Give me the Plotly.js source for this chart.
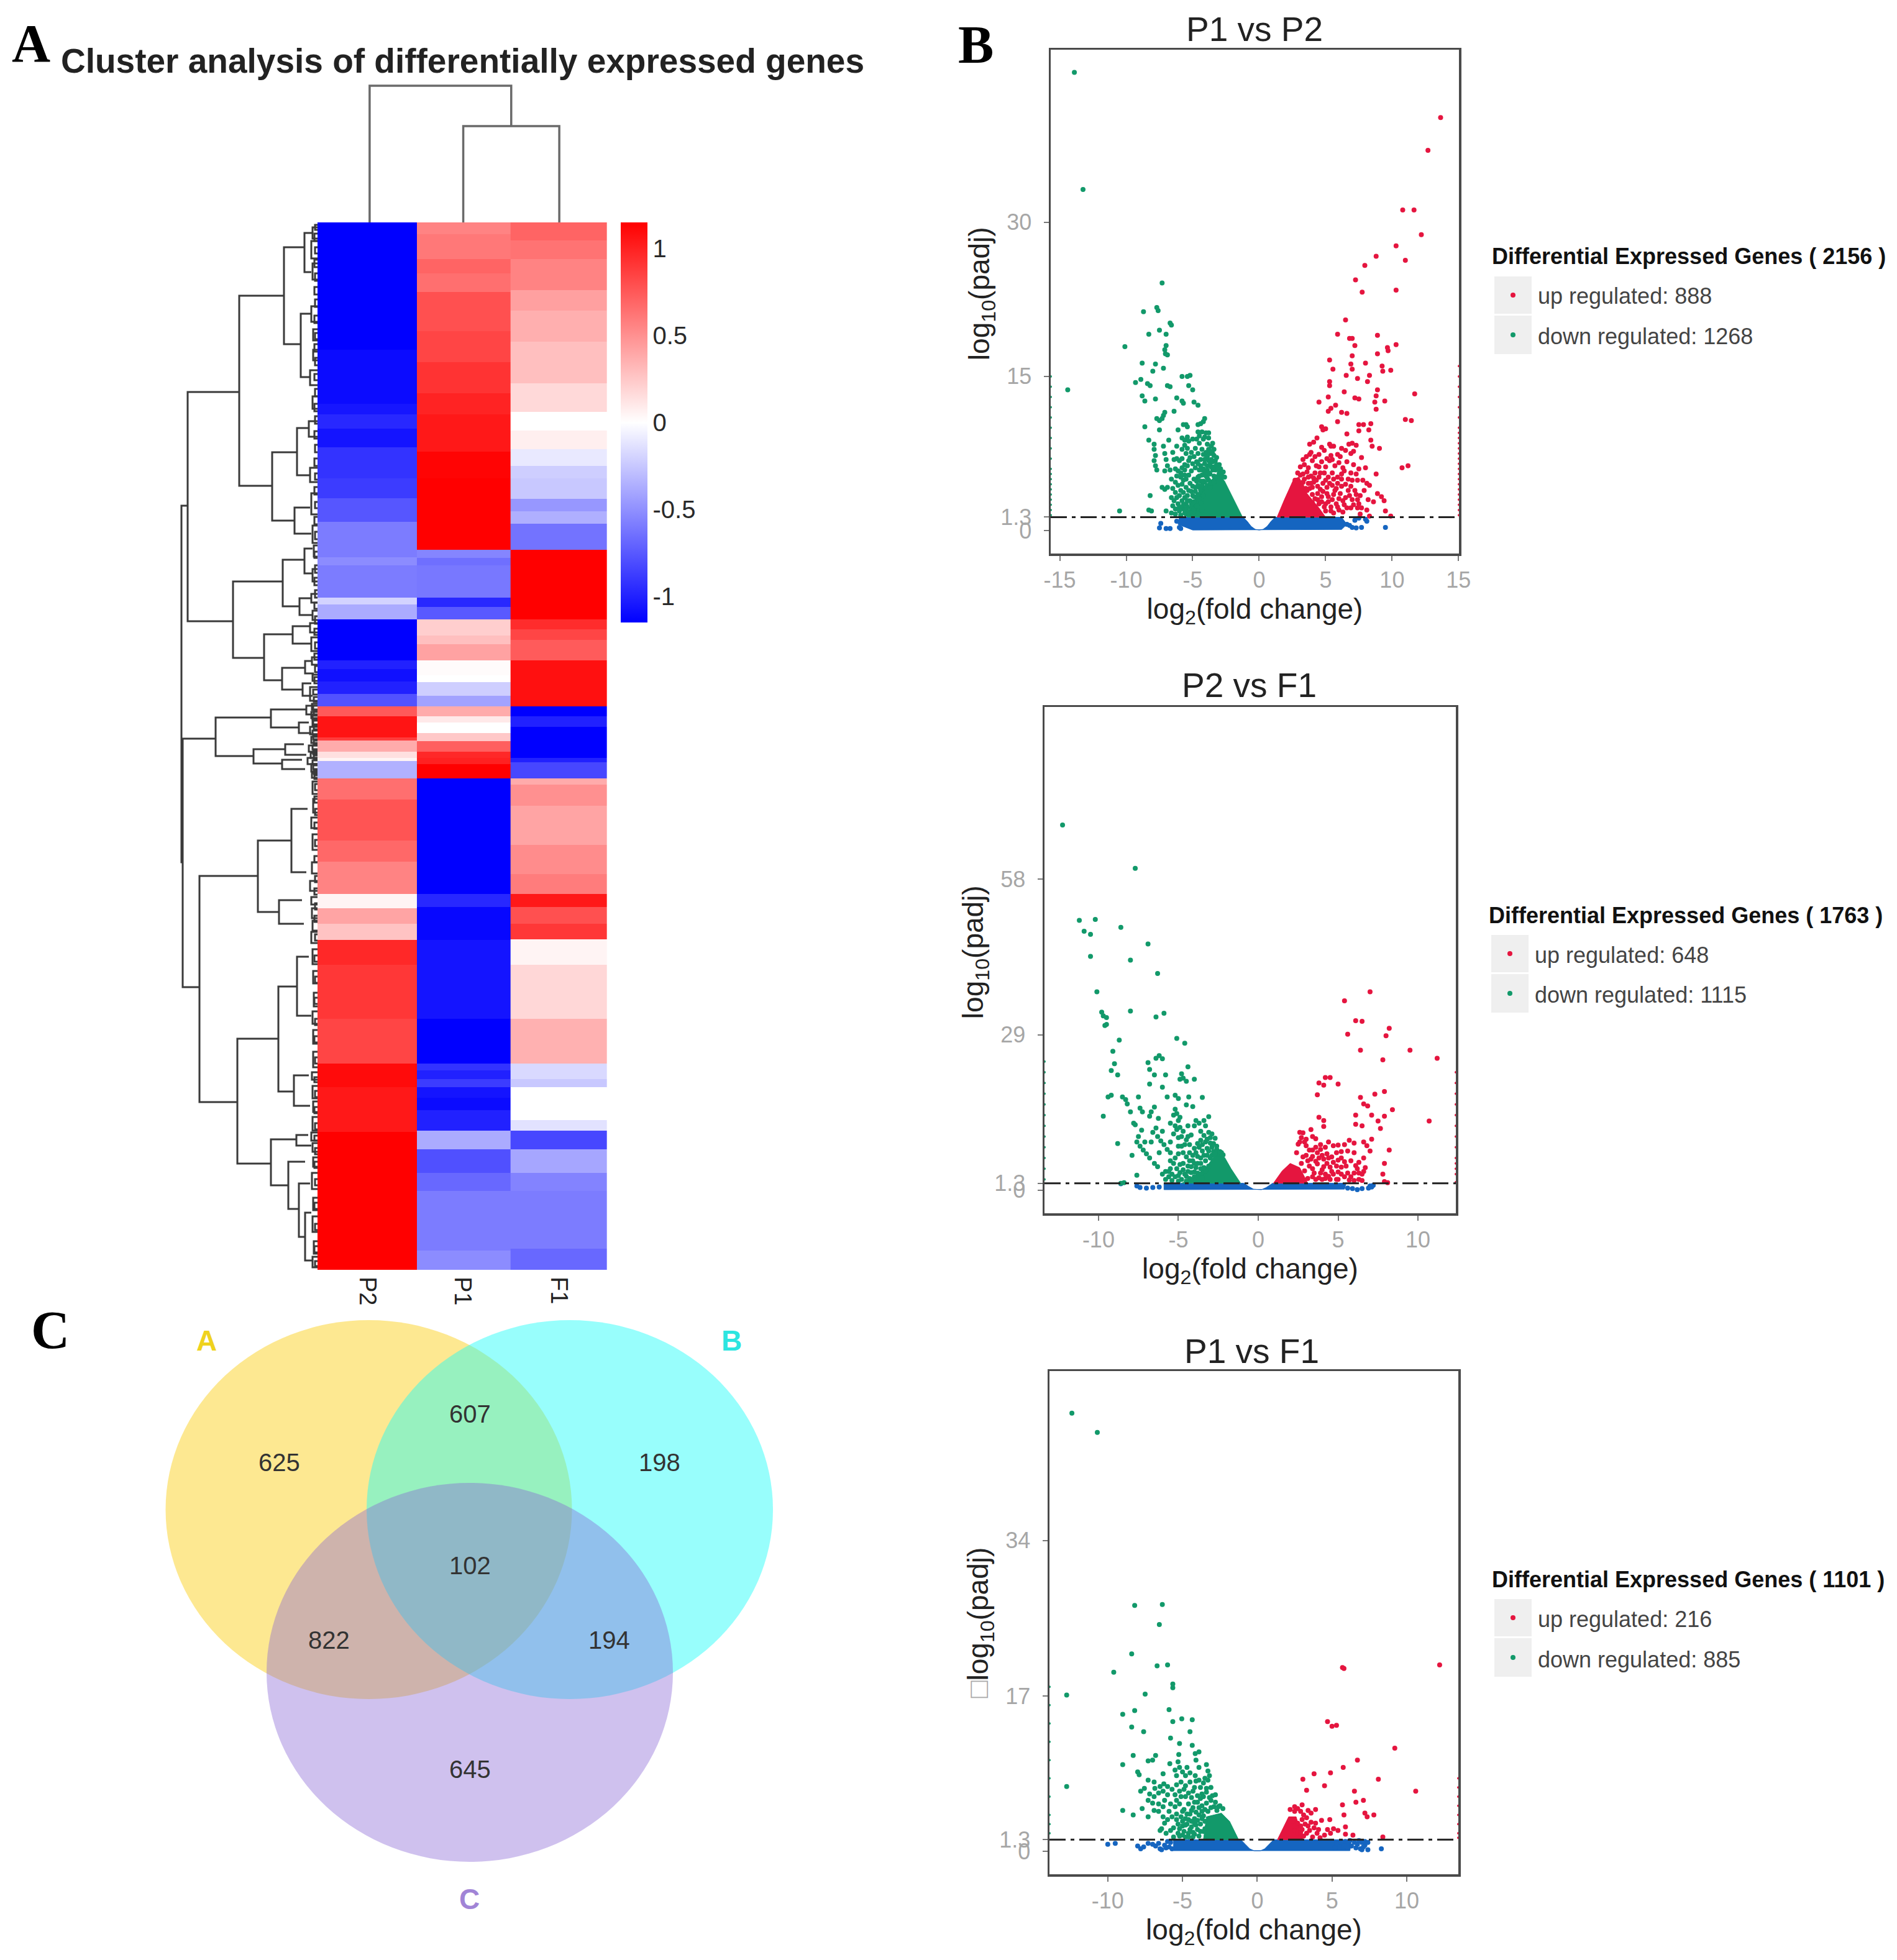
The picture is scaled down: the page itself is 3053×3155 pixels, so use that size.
<!DOCTYPE html>
<html><head><meta charset="utf-8">
<script src="https://cdn.plot.ly/plotly-3.0.1.min.js"></script>
<style>html,body{margin:0;padding:0;background:#fff}</style></head>
<body><div id="chart" style="width:3053px;height:3155px"></div>
<script>
// ---------- Panel A: heatmap (row position, scaled value) ----------
const sampleNames=["P2","P1","F1"];
const colEdges=[0,1.03,2,3];
const p2Edges=[0,205,292,309,332,362,412,444,482,539,552,604,615,639,705,719,739,759,779,795,829,834,852,862,867,895,929,995,1029,1081,1104,1129,1155,1195,1282,1354,1392,1464,1686];
const p2Vals=[-1.15,-1.1,-1.05,-0.97,-1.06,-0.92,-0.88,-0.76,-0.59,-0.52,-0.59,-0.2,-0.38,-1.15,-1,-1.08,-1,-0.78,0.75,1.06,0.88,0.38,0.14,0.05,-0.35,0.65,0.77,0.68,0.56,0.05,0.41,0.27,0.97,0.9,0.84,1.1,1.04,1.15];
const p1Edges=[0,19,59,82,112,175,225,275,309,369,412,527,540,552,604,619,639,665,679,705,729,740,762,779,795,805,822,835,852,862,872,895,1081,1102,1155,1282,1354,1365,1379,1392,1409,1429,1462,1492,1530,1559,1655,1686];
const p1Vals=[0.56,0.61,0.7,0.65,0.79,0.84,0.92,0.99,1.04,1.13,1.15,-0.55,-0.65,-0.61,-0.97,-0.75,0.22,0.29,0.42,0.02,0,-0.22,-0.42,0.38,0.1,0,0.25,0.72,0.97,1,1.15,-1.15,-0.97,-1.12,-1.06,-1.15,-0.92,-1,-0.88,-1.06,-1.1,-1,-0.38,-0.79,-0.68,-0.59,-0.52];
const f1Edges=[0,29,59,109,142,192,259,305,335,365,392,412,445,465,485,527,639,655,672,705,779,795,812,862,869,895,905,939,1002,1049,1081,1102,1129,1154,1195,1282,1354,1379,1392,1445,1462,1492,1530,1559,1652,1686];
const f1Vals=[0.7,0.63,0.56,0.43,0.36,0.29,0.17,0,0.07,-0.1,-0.22,-0.25,-0.47,-0.36,-0.63,1.15,0.95,0.84,0.74,1.08,-1.15,-1,-1.15,-1,-0.83,0.38,0.5,0.41,0.52,0.59,1.04,0.79,0.9,0.05,0.18,0.35,-0.17,-0.25,0,-0.13,-0.83,-0.4,-0.56,-0.59,-0.68];
const colorTicks=[1,0.5,0,-0.5,-1];

// dendrogram merges: [height, rowTop, rowBottom, childHeightTop, childHeightBottom]
const rowMerges=[[219,456,1030,209,217],[217,831,1231,164,190],[209,273,642,126,136],[126,118,424,54,73],[54,40,196,21,27],[21,17,80,8,10],[27,147,249,10,12],[73,370,480,33,37],[33,331,407,14,12],[37,459,501,12,10],[136,578,701,56,86],[56,543,618,21,29],[21,525,565,8,8],[29,605,632,10,8],[86,663,737,40,57],[40,650,678,12,10],[57,717,752,20,24],[20,706,726,8,6],[24,742,762,10,8],[164,797,859,75,103],[75,784,813,18,30],[18,778,792,8,6],[30,805,822,14,10],[103,848,871,52,57],[52,840,857,22,18],[57,865,880,25,20],[190,1052,1416,96,129],[96,995,1110,42,62],[42,944,1046,16,18],[62,1091,1129,25,22],[129,1314,1515,63,75],[63,1230,1399,33,38],[33,1182,1277,14,10],[38,1373,1422,14,12],[75,1476,1550,34,47],[34,1469,1486,15,10],[47,1512,1588,20,30],[30,1547,1633,12,20],[20,1594,1671,10,8]];
// small leaf brackets beside the heatmap: [height, rowTop, rowBottom]
const leafMerges=[[8,8,26],[10,30,58],[8,66,92],[10,135,160],[7,172,190],[12,238,262],[7,205,222],[8,280,300],[14,320,345],[12,395,418],[10,436,470],[8,488,516],[6,520,538],[8,558,578],[10,598,612],[8,625,640],[12,645,660],[10,668,690],[9,700,712],[8,728,738],[12,748,770],[9,775,785],[10,788,798],[8,800,810],[12,812,824],[10,828,838],[14,842,852],[11,854,862],[16,862,872],[10,872,884],[9,886,894],[8,900,920],[7,928,950],[10,958,975],[8,985,1010],[9,1030,1048],[12,1060,1076],[10,1086,1098],[9,1104,1120],[8,1124,1140],[10,1142,1160],[8,1170,1194],[7,1205,1225],[6,1240,1262],[8,1270,1290],[7,1300,1322],[7,1335,1360],[9,1368,1380],[8,1390,1410],[7,1415,1432],[8,1440,1462],[10,1465,1478],[8,1482,1496],[7,1505,1520],[9,1530,1556],[7,1570,1590],[8,1600,1625],[6,1640,1660],[8,1665,1682],
[4,4,12],[5,18,30],[4,40,50],[5,60,72],[4,82,94],[5,104,116],[4,124,136],[5,150,162],[4,178,188],[5,196,208],[4,218,230],[5,244,254],[4,268,280],[5,292,304],[4,312,324],[5,336,348],[4,358,370],[5,380,392],[4,404,414],[5,426,438],[4,450,460],[5,474,486],[4,498,510],[5,530,540],[4,552,564],[5,572,584],[4,592,604],[5,612,622],[4,634,646],[5,654,664],[4,676,686],[5,694,704],[4,714,724],[5,732,742],[7,752,760],[6,764,772],[7,778,784],[6,786,792],[8,794,800],[7,802,808],[6,810,816],[8,818,824],[7,826,832],[6,834,840],[8,842,848],[7,850,856],[6,858,864],[8,866,872],[7,874,880],[6,882,888],[5,890,896],[4,904,914],[5,924,934],[4,944,954],[5,966,976],[4,994,1004],[5,1020,1030],[4,1052,1062],[5,1072,1082],[4,1096,1106],[5,1116,1126],[4,1146,1156],[5,1180,1190],[4,1214,1224],[5,1248,1258],[4,1282,1292],[5,1310,1320],[4,1344,1354],[5,1376,1384],[4,1398,1408],[5,1424,1434],[4,1450,1460],[5,1470,1478],[4,1490,1500],[5,1512,1522],[4,1540,1550],[5,1578,1588],[4,1612,1622],[5,1648,1658],[4,1672,1680]];
// column dendrogram: [height, colLeft, colRight, childHeightLeft, childHeightRight]
const colMerges=[[220,0.54,2.007,0,155],[155,1.51,2.505,0,0]];

// ---------- Panel B: volcano plots, [log2 fold change, -log10 padj] ----------
const p1Down=[[-13.9,44.6],[-13.25,33.2],[-14.4,13.7],[-7.3,24.1],[-8.7,21.3],[-7.7,21.7],[-7.6,21.4],[-6.7,20.2],[-6.6,20],[-7.5,19.5],[-8.3,19.1],[-7,19.1],[-10.1,17.9],[-7,18],[-7.1,17.6],[-7.05,17.2],[-6.9,17.1],[-8.8,16.3],[-7.8,16.2],[-7.2,15.8],[-8,15.5],[-9.3,14.4],[-8.9,14.7],[-8.4,14.3],[-8.2,14.1],[-5.8,15],[-5.2,15.1],[-5.4,15],[-6.9,14.1],[-6.7,14],[-5.3,14.1],[-5,13.7],[-8.8,13.1],[-8.6,12.6],[-7.8,12.8],[-6.2,12.9],[-5.7,12.4],[-5.8,12.6],[-4.9,12.5],[-4.6,12.2],[-7.1,11.5],[-7.7,10.9],[-7.5,10.7],[-7.3,10.9],[-7.2,11.2],[-6.4,11.6],[-4.1,10.9],[-4.2,10.6],[-4.4,10.4],[-4.6,10.3],[-8.6,10.1],[-5.7,10.3],[-5.5,10.3],[-5.4,10.1],[-7.5,9.8],[-6.1,9.8],[-4.6,9.6],[-4.3,9.6],[-4,9.5],[-3.8,9.5],[-8.3,8.8],[-6.8,8.8],[-5.8,9],[-5.6,8.8],[-5.4,9.1],[-7.9,8.4],[-7.9,7.9],[-7.8,7.3],[-7.9,6.8],[-7.8,6.3],[-7.7,5.9],[-7.2,8.2],[-7.1,7.5],[-7,6.9],[-6.9,6.3],[-7.1,5.8],[-6.7,5.9],[-8.2,3.4],[-8.3,2],[-8.1,1.9],[-10.5,1.9],[-7.3,4.2],[-7.1,4],[-6.9,4.2],[-6.4,6.9],[-6.2,7],[-6,6.8],[-5.8,7],[-5.6,6.4],[-6.3,6],[-6.1,5.8],[-5.9,5.6],[-5.6,5.9],[-5.4,6.3],[-6.2,5.3],[-5.9,5.2],[-5.7,4.9],[-5.5,5],[-5.3,5.4],[-5.1,5.8],[-6.1,4.4],[-5.8,4.5],[-5.5,4.2],[-5.2,4.6],[-4.9,5],[-6.3,3.7],[-6,3.4],[-5.7,3.7],[-5.4,3.4],[-5.1,3.8],[-4.8,4.2],[-6.4,2.9],[-6.1,2.6],[-5.8,2.9],[-5.5,2.6],[-5.2,2.9],[-4.9,3.3],[-6.3,2.1],[-6,1.9],[-5.7,2.1],[-5.4,1.9],[-5.1,2.2],[-4.8,2.6],[-5.5,1.6],[-6.6,1.7],[-5.6,8.3],[-5.3,8.7],[-5,8.9],[-5.4,8],[-5.1,7.6],[-4.8,8],[-4.5,8.5],[-4.2,8.9],[-3.9,8.4],[-3.6,8.2],[-3.4,7.9],[-4.9,7.2],[-4.6,7.5],[-4.3,7.9],[-4,7.6],[-3.7,7.5],[-3.4,7.3],[-4.7,6.7],[-4.4,6.9],[-4.1,6.5],[-3.8,6.8],[-3.5,6.7],[-3.2,6.4],[-4.8,6.1],[-4.5,5.9],[-4.2,6],[-3.9,5.9],[-3.6,6.2],[-3.3,5.9],[-3,5.6],[-4.6,5.2],[-4.3,5.4],[-4,5.3],[-3.7,5.5],[-3.4,5.3],[-4.4,4.8],[-4.1,4.7],[-3.8,4.9],[-4.5,4.2],[-4.2,4.1],[-3.9,4.4],[-4.6,3.5],[-4.3,3.3],[-4.7,2.9],[-4.4,2.7],[-4.6,2.2],[-4.3,2],[-7,1.9],
[-6.5,2.4],[-6.3,1.6],[-6.2,3.2],[-6,2.3],[-5.9,3.9],[-5.9,1.5],[-5.7,2.5],[-5.6,3.2],[-5.6,1.7],[-5.4,2.3],[-5.4,2.9],[-5.3,3.9],[-5.3,1.5],[-5.1,1.7],[-5.1,2.6],[-5,3.4],[-5,4.3],[-5,1.5],[-4.9,2.1],[-4.9,2.8],[-4.8,3.8],[-4.8,1.7],[-4.7,4.8],[-4.7,2.4],[-4.6,1.6],[-4.6,4.4],[-4.5,3.1],[-4.5,5.3],[-4.4,3.9],[-4.4,6.3],[-4.3,5.9],[-4.3,4.4],[-4.2,4.8],[-4.2,3.4],[-4.1,5.7],[-4.1,6.9],[-4,4.2],[-4,7],[-3.9,5.1],[-3.9,7.2],[-3.8,5.6],[-3.8,7.9],[-3.7,6.4],[-3.7,4.2],[-3.6,6.9],[-3.6,4.6],[-3.5,7.5],[-3.5,5.9],[-3.5,8.5],[-3.4,6.2],[-3.4,4.7],[-3.3,6.8],[-3.3,5.2],[-3.2,7.1],[-3.1,6],[-3,6.4],[-2.9,6],[-2.8,5.3],[-2.7,5.7],[-2.6,5.2],[-5,6.5],[-5.2,7.1],[-5.5,7.5],[-5.8,7.9],[-6.2,8.2],[-6.5,7.6],[-4.7,8.9],[-4.5,9.2],[-4.1,9.1],[-3.8,9],[-5.8,6.1],[-6.6,5],[-6.5,4.1],[-6.3,4.7],[-6.6,3.2],[-4.6,6.5],[-4.2,7.4],[-3.9,6.3],[-3.6,7.7],[-5.3,6.8],[-5.6,5.4]];
const p1Up=[[13.65,40.2],[12.7,37],[10.8,31.2],[11.65,31.2],[12.2,28.8],[10.3,27.7],[8.8,26.7],[11,26.3],[7.95,25.8],[7.25,24.4],[10.3,23.4],[7.75,23.2],[6.5,20.5],[5.9,19.1],[8.9,19],[6.8,18.7],[7,18.7],[7.2,18],[10.3,18.1],[9.65,17.8],[9.7,17.5],[8.9,17.2],[7,17],[5.3,16.6],[6.9,16.2],[8,16.3],[9.25,16],[5.55,15.7],[7,15.7],[9.3,15.5],[9.9,15.6],[6.55,15.1],[8.3,15.1],[7.4,14.8],[8.15,14.5],[5.3,14.5],[5.3,14.1],[8.9,13.7],[6.4,13.5],[11.7,13.3],[5.2,13],[8.8,13.1],[7.2,12.9],[7.5,12.8],[4.5,12.5],[8.7,12.5],[9.45,12.6],[5.75,12.2],[5.2,11.6],[5.4,11.9],[8.8,11.8],[6.2,11.5],[6.6,11.4],[11,10.8],[11.45,10.7],[5.9,10.6],[8.4,10.4],[7.5,10.3],[7.85,10.3],[4.7,10.1],[5,9.9],[4.8,9.8],[7.5,9.7],[8.25,9.8],[4.35,9],[6.6,9.4],[3.8,8.4],[4.1,8.6],[8.4,8.8],[8.5,8.2],[9.05,8],[7,8.5],[6.75,8.4],[5.4,8.2],[5.6,8.2],[6.5,7.8],[3.8,7.4],[4.9,7.8],[3.55,7.2],[5.9,7.4],[7.7,7.1],[11.2,6.3],[10.75,6.1],[3.1,6.2],[3.4,6.4],[3.7,6.1],[4,6.8],[4.3,6.3],[4.7,6.7],[5,6.2],[5.3,6.8],[5.7,6.3],[6,6.6],[6.3,6.1],[6.6,6.7],[7.1,6.4],[7.5,6],[8,6.1],[8.8,5.5],[2.9,5.6],[3.3,5.5],[3.6,5.7],[3.9,5.3],[4.2,5.6],[4.5,5.2],[4.9,5.6],[5.2,5.2],[5.5,5.6],[5.9,5.2],[6.2,5.5],[6.7,5],[7,4.9],[7.4,4.9],[7.8,4.9],[8.1,4.6],[3.3,4.7],[3.7,4.6],[4.1,4.7],[4.4,4.3],[4.8,4.6],[5.1,4.2],[5.5,4.4],[5.8,4.1],[6.2,4.3],[6.7,3.9],[7.2,3.9],[7.6,3.4],[8.9,3.6],[9.2,3.3],[3.6,3.9],[4,3.5],[4.4,3.6],[4.7,3.3],[5.2,3.3],[5.6,3.5],[6,3.1],[6.5,3.2],[7,3],[7.4,3],[8.6,2.8],[9.4,2.9],[4,2.7],[4.5,2.6],[5,2.6],[5.4,2.3],[5.9,2.3],[6.4,2.5],[6.9,2.2],[7.4,2.2],[8.1,2],[9.5,1.9],[5,1.9],[5.6,1.7],[6.3,1.8],[7.6,1.6],[8.3,1.4],[9.9,1.4],
[2.7,4.9],[2.9,4.6],[3.1,5.4],[3.2,4.3],[3.4,5],[3.5,4.1],[3.7,5.2],[3.8,4.1],[3.9,4.6],[4,4.2],[4.1,5.1],[4.2,3.1],[4.3,4.9],[4.4,3],[4.6,4],[4.6,5.6],[4.7,2.8],[4.8,3.8],[4.9,2.3],[5,4.9],[5.1,3.6],[5.2,2.8],[5.3,4.6],[5.4,1.9],[5.5,3],[5.6,5],[5.7,3.9],[5.8,2.6],[5.9,4.6],[6,2],[6.1,3.6],[6.2,5],[6.3,2.9],[6.5,4.5],[6.6,2.2],[6.8,3.4],[6.9,4.3],[7.1,2.5],[7.3,3.5],[7.5,2.6],[7.7,2.2],[8.3,4.4],[7.9,3.9],[8.2,3],[4.5,6.2],[5.1,7],[5.5,6.9],[4.2,7.2],[4.5,7.4],[5.4,7.3],[6.1,7.2],[6.4,5.8],[6.9,5.6],[7.3,5.5],[3.3,6.9],[3.9,7.6],[4.7,8.1],[5.3,8.4],[6.2,8],[6.9,7.5],[7.3,8.3],[7.1,7.7]];
const p1Stray=[[-7.4,0.7],[-7.5,0.25],[-7,0.2],[-6.7,0.2],[-6.2,0.9],[-6,0.3],[-5.9,0.2],[7,0.3],[7.3,0.25],[7.7,0.3],[7.2,1],[7.5,1.2],[8.1,0.9],[8,1.1],[6.8,0.5],[6.6,0.6],[9.5,0.3]];
const p1DownCore=[[-1.25,1.3],[-1.7,2.5],[-2.6,4.8],[-3.1,5.6],[-3.7,4.8],[-4.6,3.6],[-5.2,2.2],[-5.4,1.3]];
const p1UpCore=[[1.35,1.3],[1.9,3],[2.6,5],[3,5.2],[3.6,3.6],[4.5,2.2],[5,1.3]];
const p1Band=[[-6,1.3],[-1.2,1.3],[-0.9,0.9],[-0.6,0.4],[-0.3,0.12],[0,0.05],[0.3,0.12],[0.6,0.4],[0.9,0.9],[1.2,1.3],[6.2,1.3],[6.6,0.6],[6.2,0.1],[-5,0.05],[-6.1,0.6]];
const p1EdgeDown=[1.5,2,2.5,3,3.5,4,4.5,5,5.5,6,7,8,9,10,11,12,13,14,15];
const p1EdgeUp=[1.5,2,2.5,3,3.5,4,4.5,5,5.5,6,6.5,7,7.5,8,8.5,9,9.5,10,11,12,13,14,15,16];

const p2Down=[[-12.25,68.1],[-7.7,60],[-11.2,50.3],[-10.2,50.5],[-10.9,48.3],[-10.5,47.7],[-8.6,49],[-6.9,45.9],[-10.5,43.6],[-8,42.9],[-6.3,40.4],[-10.1,37],[-8,33.4],[-9.8,33.2],[-9.7,32.5],[-9.5,32.2],[-6.4,32.3],[-5.9,33],[-9.6,30.7],[-9.5,30.9],[-8.7,28],[-5.1,28.3],[-4.6,27.4],[-9.1,25.9],[-6.4,24.6],[-6.2,25.1],[-6,24.5],[-6.9,23.8],[-9,23.6],[-6.8,22.5],[-4.4,23],[-9.2,22.3],[-8.8,21.5],[-6.5,21.5],[-5.8,21.5],[-4.8,21.7],[-4.9,20.7],[-4.7,20.9],[-4,20.7],[-4.5,20.3],[-6.8,19.8],[-6,19.2],[-9.4,17.4],[-9.2,17.7],[-8.5,17.4],[-8.3,16.9],[-7.5,17.4],[-5.7,17.4],[-5.2,17.7],[-5,17.1],[-4.35,17.4],[-3.5,17.3],[-8.2,16.1],[-7.4,15.3],[-6.5,15.5],[-5.2,15.1],[-4.5,15.9],[-4.1,15.6],[-8,14.6],[-7.25,14.6],[-6.7,14.6],[-9.7,13.8],[-7.8,12.5],[-6.8,13.8],[-6.25,13.4],[-7.7,12.2],[-7.5,10],[-7.6,9],[-7.4,8.2],[-7.2,7.5],[-7,6.8],[-6.8,6],[-7.9,6.5],[-6.5,5],[-6.3,4.4],[-6.6,10.8],[-6.3,10],[-6.1,9.2],[-5.9,8.5],[-5.7,7.6],[-5.5,7],[-6,11],[-5.5,12.5],[-5.2,12],[-5,13],[-5.1,11.3],[-4.9,11.7],[-5.3,10.5],[-5,9.8],[-4.7,11],[-4.5,9.4],[-4.2,10.3],[-4,12],[-3.7,12.5],[-3.4,13],[-3.3,12],[-3.1,13.7],[-3.9,13],[-4.3,8.5],[-4.8,8.2],[-5,6.8],[-5.2,6],[-5.3,5],[-5.5,4],[-5.4,3],[-5.6,2.5],[-4.7,7],[-4.5,6.2],[-4.3,7],[-4,7.8],[-3.8,8.7],[-3.6,9.3],[-3.4,10.2],[-3.1,10.8],[-2.9,10.5],[-2.7,9.7],[-3,8.8],[-3.2,7.8],[-3.5,7.3],[-3.8,6.3],[-4.1,5.5],[-4.4,4.5],[-4.7,3.8],[-4.9,4.8],[-5,2.7],[-4.5,2.6],[-4.2,3.3],[-3.9,4.2],[-3.6,5],[-3.3,5.5],[-3.6,3],[-4,2.5],[-3.3,3.6],[-2.9,6.5],[-2.6,8.2],[-2.5,6.8],[-2.3,7],[-8.8,8.7],[-7.6,2.8],[-8.6,1.3],[-8.4,1.4],
[-5.8,2],[-5.6,3.5],[-5.4,1.8],[-5.2,2.5],[-5.1,4],[-5,1.7],[-4.9,3.3],[-4.8,2],[-4.7,5],[-4.6,3],[-4.5,1.7],[-4.4,3.5],[-4.3,2.2],[-4.3,5.5],[-4.2,4.4],[-4.1,2],[-4.1,6.5],[-4,3.4],[-4,5],[-3.9,2],[-3.9,7],[-3.8,3.2],[-3.8,5],[-3.7,2],[-3.7,8],[-3.6,4],[-3.6,6],[-3.5,2.3],[-3.5,8.5],[-3.4,4.2],[-3.4,6.5],[-3.3,9],[-3.2,6.5],[-3.2,9.5],[-3.1,4.5],[-3.1,7.3],[-3,6],[-3,9.8],[-2.9,8],[-2.8,7.2],[-2.8,8.7],[-2.7,6.8],[-2.6,7.6],[-2.4,7.2],[-2.2,6.6],[-4.6,8.5],[-5,8.2],[-4.4,10],[-5.5,5.5],[-5.8,3.5],[-6,3],[-6.2,7],[-4.8,10],[-5.5,9],[-5.3,14],[-5.1,14.3],[-4.9,13.6],[-3.6,11],[-4.4,12],[-6.4,11.6],[-7.3,11.2],[-7.1,9],[-6.7,9]];
const p2Up=[[7,37],[5.4,35.3],[6.1,31.6],[6.5,31.5],[8.2,30.2],[8,28.8],[5.6,29.1],[6.4,26.1],[9.5,26.1],[11.2,24.6],[7.8,24.3],[4.2,21],[4.5,21],[3.8,20],[4.1,19.6],[5,19.8],[3.7,17.8],[7.9,18.4],[7.3,17.9],[6.4,17.3],[6.6,16.1],[6.85,15.7],[8.4,15],[6.1,14],[7.1,14],[7.9,13.8],[3.8,13.6],[4.1,13],[10.7,12.9],[7.5,12.9],[6.1,12.3],[6.5,12],[4.1,11.9],[7.65,11.5],[2.8,10.7],[3.3,11.3],[2.6,10.8],[2.7,9.8],[2.9,9],[3,8.3],[3.2,7.5],[2.5,8.6],[2.4,7],[2.8,6.2],[3.1,5.5],[3.4,6.3],[3.6,8],[3.9,8.5],[4.2,8],[4.4,9],[4.7,8.3],[5,8.4],[5.4,8.5],[3.7,7],[4,6.5],[4.3,6.8],[4.6,6.2],[4.9,7],[5.2,6],[5.6,7.3],[3.4,4],[3.7,4.9],[4,3.8],[4.3,5],[4.6,3.5],[4.9,4.5],[5.2,3],[5.5,4.5],[5.8,2.5],[3.4,2.5],[3.8,2.3],[4.2,2.2],[4.5,2],[5,2],[5.7,9.3],[6,8.8],[6,7],[6.3,5.2],[6.6,6],[6.2,4],[6.5,3],[6.7,4.2],[7,7.3],[6.8,8.3],[7.1,9.5],[6,1.8],[6.3,2],[8.2,7.5],[7.9,5],[7.8,3],[7.9,1.6],[8.1,1.4],[6.6,9],[3.4,10],[3.6,9.6],
[2.7,5],[2.9,3.6],[3,6.5],[3.1,2.2],[3.2,4.5],[3.3,5.8],[3.4,7.5],[3.5,3.2],[3.6,5.4],[3.6,2],[3.8,6],[3.9,3.2],[3.9,7.6],[4,2],[4.1,4.4],[4.1,5.8],[4.2,3],[4.4,6],[4.4,2.6],[4.5,4.3],[4.7,5.2],[4.7,3],[4.9,2],[5,5.6],[5,3.4],[5.2,4.3],[5.2,7.2],[5.4,2.5],[5.4,5.3],[5.6,3.2],[5.7,1.9],[5.8,5.5],[6,3.2],[6.1,4.6],[6.3,3.2],[6.5,1.8],[6.6,3.5],[3,9.5],[2.6,9]];
const p2Stray=[[-7.4,0.5],[-7.6,0.8],[-7,0.4],[-6.6,0.5],[-6.2,0.6],[6.5,0.3],[6.2,0.1],[7,0.8],[7.2,0.9],[6.9,0.4],[7.1,0.6],[5.9,0.3],[5.6,0.4],[-8.6,1.2]];
const p2DownCore=[[-1.1,1.3],[-1.7,4],[-2.1,6.1],[-2.6,7],[-3.2,4.5],[-4,2.5],[-4.8,1.3]];
const p2UpCore=[[0.95,1.3],[1.5,3.6],[2,5],[2.6,4.2],[3.1,1.3]];
const p2Band=[[-5.9,1.3],[-0.9,1.3],[-0.6,0.7],[-0.3,0.2],[0.2,0.1],[0.5,0.5],[0.9,1.3],[5.5,1.3],[5.4,0.2],[-5.9,0.1]];
const p2EdgeDown=[2,4,6,8,10,12,14,16,18,20,22,24];
const p2EdgeUp=[1.5,3,4,5,6,8,10,12,14,16,18,20,22];

const p3Down=[[-12.4,47.9],[-10.7,45.8],[-8.2,26.9],[-6.35,27],[-6.55,24.8],[-8.4,21.6],[-6.7,20.3],[-6,20.4],[-9.6,19.6],[-12.75,17.1],[-5.65,18.3],[-5.65,17.9],[-7.5,17.2],[-8.2,15.4],[-5.9,15.5],[-9,15],[-5.05,14.5],[-4.35,14.4],[-5.65,14.2],[-8.4,13.6],[-7.6,13.1],[-4.5,13.1],[-5.8,12.4],[-5.2,11.8],[-4.35,11.6],[-3.9,10.9],[-4.15,10.7],[-5.25,10.6],[-6.8,10.5],[-8.3,10.5],[-7,10],[-7.3,9.9],[-4.1,10],[-5.3,9.8],[-9,9.5],[-5.85,9.6],[-5.2,9.2],[-3.4,9.5],[-3.9,9.2],[-8,8.7],[-7.9,8.4],[-7.3,7.8],[-5.4,8.3],[-4.5,8.6],[-4.15,8.3],[-3.3,8.8],[-12.75,7.1],[-6.5,7.1],[-6.25,7.4],[-6.85,6.9],[-7.55,6.9],[-7.8,6.6],[-7.2,6.3],[-6.9,6],[-6.6,6.4],[-6.3,6.6],[-6,6.2],[-5.7,6.8],[-5.4,7.3],[-5.1,7.6],[-4.8,7.2],[-4.5,7.6],[-4.2,7],[-3.9,7.8],[-3.6,7.5],[-3.3,7.8],[-3.1,7],[-3.4,6.5],[-3.7,6.3],[-4,6.1],[-4.4,5.9],[-4.8,6],[-5.1,6],[-5.4,5.6],[-7.3,5.6],[-7,5.3],[-6.6,5.2],[-6.3,4.9],[-6.6,4.4],[-6.9,4.5],[-7.7,4.7],[-6.3,3.8],[-6.2,3.1],[-6.4,2.5],[-6.5,2.3],[-6.1,2],[-8.3,4],[-9,4.5],[-7.3,3.8],[-5.8,5.2],[-5.5,4.9],[-5.2,5.2],[-4.9,4.6],[-4.6,5.2],[-4.3,4.8],[-4,5.4],[-3.7,5],[-3.4,5.3],[-3.1,5.6],[-2.8,5.4],[-2.8,6.2],[-2.6,4.9],[-5.4,4.1],[-5.1,3.8],[-4.8,3.6],[-4.5,4.1],[-4.2,3.6],[-3.9,4],[-3.6,3.9],[-5.3,3],[-5,2.8],[-4.7,3],[-4.4,2.7],[-4.1,2.9],[-3.8,2.2],[-3.5,2.5],[-5.3,2],[-5,1.8],[-4.6,2],[-4.2,1.9],
[-5.6,1.6],[-5.6,2.6],[-5.4,3.5],[-5.2,1.7],[-5.2,2.5],[-5,3.3],[-5,4.4],[-4.9,2.2],[-4.8,1.6],[-4.8,2.9],[-4.7,4.1],[-4.6,3.5],[-4.6,1.6],[-4.5,2.4],[-4.4,3.3],[-4.4,4.5],[-4.3,2.1],[-4.3,1.6],[-4.2,3.1],[-4.2,5.4],[-4.1,4.3],[-4,2.4],[-4,3.4],[-3.9,4.8],[-3.9,1.7],[-3.8,3],[-3.8,5.8],[-3.7,3.6],[-3.7,4.4],[-3.6,2.2],[-3.6,6],[-3.5,3.3],[-3.5,4.6],[-3.4,6.9],[-3.3,4.4],[-3.2,5.9],[-3.1,4.8],[-3,6.1],[-2.9,4.9],[-2.7,4.5],[-2.5,5],[-2.3,4.7],[-5.5,6.2],[-5.2,6.6],[-4.9,6.8],[-4.6,6.4],[-4.3,6.6],[-4.1,7.7],[-3.8,7],[-3.5,8],[-3.2,8.3],[-6,3.5],[-5.8,2.3],[-5.7,3.8],[-5.9,4.4],[-6,7.1],[-6.2,5.6],[-5.5,8.9],[-5,8.7],[-4.8,8.3],[-4.7,9.2],[-6.3,8.5],[-6.9,7.6]];
const p3Up=[[12.2,20.4],[5.8,20],[5.7,20.1],[4.7,14.2],[5,13.7],[5.3,13.8],[9.2,11.3],[6.7,10],[5.75,9.2],[4.9,8.6],[3.8,8.5],[3.05,7.9],[8.1,7.9],[4.5,7.2],[3.3,6.7],[10.6,6.6],[6.5,6.6],[6.6,5.4],[7.1,5.6],[5.7,5.1],[2.7,4.7],[3.9,4.6],[3.6,4.2],[7.2,4.2],[5.8,4],[7.35,3.8],[7.8,4],[4.85,3.5],[5.9,2.7],[5.1,2.5],[8.4,1.6],[6.4,1.8],[2.2,4.6],[2.5,4.4],[3,3.5],[3.2,3],[3.4,4.5],[3.6,3.2],[3.8,2.6],[4,2],[4.3,3.4],[3.3,2],[4.5,1.8],[4.9,2],[5.4,2.3],[5.9,1.9],[4.7,2.4],[2.9,2.8],[3.1,4],
[2.4,3.3],[2.5,2.3],[2.7,3.1],[2.7,2],[2.9,2.1],[3,2.4],[3.1,1.7],[3.3,3.7],[3.5,2.3],[3.7,1.6],[4.1,2.4],[4.2,1.5],[3.9,3.1],[2.9,4.4],[3,5.1],[2.5,4.9],[3.4,2.8]];
const p3Stray=[[-10,0.8],[-9.5,0.9],[-8,0.6],[-7.8,0.3],[-7.6,0.5],[-7.3,0.9],[-7,0.8],[-6.8,0.6],[-6.4,0.2],[-6.2,0.7],[-6.1,0.4],[6,0.4],[6,0.9],[5.5,0.5],[5.2,0.4],[6.3,0.6],[6.6,0.4],[7,0.2],[7.2,0.7],[7.4,0.2],[6.9,0.3],[7,1],[7.1,0.5],[8.3,0.3],[-5.9,0.5],[-5.8,1],[-5.7,0.3],[5.9,1.1],[5.6,1],[5.3,0.9],[5.8,0.6],[6.2,1.2],[6.5,1],[6.7,0.8],[6.8,1.2],[7.2,1.1],[7.4,1],[-6.6,0.9],[-6.5,0.3],[-6,1.1]];
const p3DownCore=[[-1.25,1.3],[-1.85,3.3],[-2.4,4.2],[-3.4,3.8],[-3.6,1.3]];
const p3UpCore=[[1.35,1.3],[2.1,3.8],[2.6,3.8],[3.05,1.3]];
const p3Band=[[-5.6,1.3],[-1.1,1.3],[-0.8,0.8],[-0.5,0.3],[-0.2,0.08],[0.2,0.08],[0.5,0.3],[0.8,0.8],[1.1,1.3],[6.3,1.3],[6.2,0.1],[-5.6,0.1]];
const p3EdgeDown=[2,3,4,6,8,10,12,14,16,18];
const p3EdgeUp=[1.5,2,3,4,5,6,7,8];

// ---------- Panel C: Venn counts ----------
const vennLabels=["625","607","198","102","822","194","645"];

// ---------- Layout helpers (page pixels -> paper fractions) ----------
const W=3053,H=3155;
const px=x=>x/W, py=y=>1-y/H;
const domX=(a,b)=>[px(a),px(b)], domY=(t,b)=>[py(b),py(t)];
const FONT='"Liberation Sans",Arial,sans-serif';
const GREEN='#12996A',RED='#E5153F',BLUE='#1565C0';
const traces=[],shapes=[],annotations=[];
const note=(x,y,text,size,color,extra)=>annotations.push(Object.assign({xref:'paper',yref:'paper',x:px(x),y:py(y),text,showarrow:false,font:{family:FONT,size,color},xanchor:'center',yanchor:'middle'},extra||{}));

// --- heatmap, one trace per column
[[p2Edges,p2Vals],[p1Edges,p1Vals],[f1Edges,f1Vals]].forEach((c,i)=>{
  traces.push({type:'heatmap',x:[colEdges[i],colEdges[i+1]],y:c[0],z:c[1].map(v=>[v]),coloraxis:'coloraxis',xaxis:'x',yaxis:'y',hoverongaps:false});
});
// --- dendrograms
(function(){
  const xs=[],ys=[];
  rowMerges.forEach(m=>{xs.push(m[3],m[0],m[0],m[4],null);ys.push(m[1],m[1],m[2],m[2],null);});
  leafMerges.forEach(m=>{xs.push(0,m[0],m[0],0,null);ys.push(m[1],m[1],m[2],m[2],null);});
  traces.push({type:'scatter',mode:'lines',x:xs,y:ys,xaxis:'x2',yaxis:'y',line:{color:'#3a3a3a',width:3},hoverinfo:'skip',cliponaxis:false});
})();
(function(){
  const xs=[],ys=[];
  colMerges.forEach(m=>{xs.push(m[1],m[1],m[2],m[2],null);ys.push(m[3],m[0],m[0],m[4],null);});
  traces.push({type:'scatter',mode:'lines',x:xs,y:ys,xaxis:'x',yaxis:'y2',line:{color:'#6a6a6a',width:3.5},hoverinfo:'skip'});
})();

const layout={width:W,height:H,margin:{l:0,r:0,t:0,b:0},paper_bgcolor:'#fff',plot_bgcolor:'#fff',showlegend:false,
  font:{family:FONT},
  coloraxis:{cmin:-1.15,cmax:1.15,colorscale:[[0,'#0000ff'],[0.5,'#ffffff'],[1,'#ff0000']],
    colorbar:{thicknessmode:'pixels',thickness:43,lenmode:'pixels',len:644,x:px(999),xanchor:'left',y:py(358),yanchor:'top',xpad:0,ypad:0,outlinewidth:0,
      tickvals:colorTicks,ticktext:colorTicks.map(String),ticks:'',tickfont:{family:FONT,size:40,color:'#2a2a2a'}}},
  xaxis:{domain:domX(511,977),range:[0,3],anchor:'y',tickvals:[0.52,1.5,2.5],ticktext:sampleNames,tickangle:90,ticks:'',ticklabelstandoff:10,showgrid:false,zeroline:false,showline:false,tickfont:{family:FONT,size:38,color:'#222'}},
  yaxis:{domain:domY(358,2044),range:[1686,0],anchor:'x',visible:false,showgrid:false,zeroline:false},
  xaxis2:{domain:domX(271,511),range:[240,0],anchor:'y',visible:false,showgrid:false,zeroline:false},
  yaxis2:{domain:domY(128,358),range:[0,230],anchor:'x',visible:false,showgrid:false,zeroline:false}
};

// --- volcano panels
const NB='&nbsp;&nbsp;';
const panels=[
 {name:'P1 vs P2',ax:3,frame:[1691,2348,80,891],xr:[-15.68,15.03],yr:[-2.24,46.8],xt:[-15,-10,-5,0,5,10,15],yt:[0,1.3,15,30],titleX:2019,titleY:47,up:p1Up,down:p1Down,stray:p1Stray,upC:p1UpCore,downC:p1DownCore,band:p1Band,eDown:p1EdgeDown,eUp:p1EdgeUp,yTitle:NB+'log<sub>10</sub>(padj)',lg:[2399,413],deg:2156,ups:888,downs:1268},
 {name:'P2 vs F1',ax:4,frame:[1681,2343,1138,1953],xr:[-13.38,12.37],yr:[-4.3,90.1],xt:[-10,-5,0,5,10],yt:[0,1.3,29,58],titleX:2010,titleY:1103,up:p2Up,down:p2Down,stray:p2Stray,upC:p2UpCore,downC:p2DownCore,band:p2Band,eDown:p2EdgeDown,eUp:p2EdgeUp,yTitle:NB+'log<sub>10</sub>(padj)',lg:[2394,1473],deg:1763,ups:648,downs:1115},
 {name:'P1 vs F1',ax:5,frame:[1689,2347,2207,3017],xr:[-13.9,13.45],yr:[-2.48,52.5],xt:[-10,-5,0,5,10],yt:[0,1.3,17,34],titleX:2014,titleY:2175,up:p3Up,down:p3Down,stray:p3Stray,upC:p3UpCore,downC:p3DownCore,band:p3Band,eDown:p3EdgeDown,eUp:p3EdgeUp,yTitle:'<span style="color:#aaa">□</span>log<sub>10</sub>(padj)',lg:[2399,2542],deg:1101,ups:216,downs:885}
];
panels.forEach(p=>{
  const xa='x'+p.ax,ya='y'+p.ax;
  const X=a=>a.map(d=>d[0]),Y=a=>a.map(d=>d[1]);
  const area=(a,c)=>traces.push({type:'scatter',mode:'lines',x:X(a).concat(a[0][0]),y:Y(a).concat(a[0][1]),fill:'toself',fillcolor:c,line:{color:c,width:1},xaxis:xa,yaxis:ya,hoverinfo:'skip'});
  const pts=(a,c)=>traces.push({type:'scatter',mode:'markers',x:X(a),y:Y(a),marker:{color:c,size:8,line:{width:0}},xaxis:xa,yaxis:ya});
  const edge=(ys,x,c)=>traces.push({type:'scatter',mode:'markers',x:ys.map(()=>x),y:ys,marker:{color:c,size:4,line:{width:0}},xaxis:xa,yaxis:ya,cliponaxis:false});
  area(p.band,BLUE); pts(p.stray,BLUE);
  area(p.downC,GREEN); pts(p.down,GREEN);
  area(p.upC,RED); pts(p.up,RED);
  edge(p.eDown,p.xr[0],GREEN); edge(p.eUp,p.xr[1],RED);
  const axisCommon={ticks:'outside',ticklen:8,tickcolor:'#777',tickwidth:2,showgrid:false,zeroline:false,showline:true,linecolor:'#4a4a4a',linewidth:3.5,mirror:true,tickfont:{family:FONT,size:36,color:'#a6a6a6'}};
  layout['xaxis'+p.ax]=Object.assign({domain:domX(p.frame[0],p.frame[1]),range:p.xr,anchor:ya,tickvals:p.xt,ticktext:p.xt.map(String),
    title:{text:'log<sub>2</sub>(fold change)',font:{family:FONT,size:46,color:'#222'},standoff:6}},axisCommon);
  layout['yaxis'+p.ax]=Object.assign({domain:domY(p.frame[2],p.frame[3]),range:p.yr,anchor:xa,tickvals:p.yt,ticktext:p.yt.map(String),ticklabelstandoff:12,
    title:{text:p.yTitle,font:{family:FONT,size:46,color:'#222'},standoff:4}},axisCommon);
  shapes.push({type:'line',xref:xa,yref:ya,x0:p.xr[0],x1:p.xr[1],y0:1.3,y1:1.3,line:{color:'#222',width:3,dash:'26px,8px,6px,8px'}});
  note(p.titleX,p.titleY,p.name,55,'#222');
  // legend block
  const [lx,ly]=p.lg;
  note(lx,ly,'Differential Expressed Genes ( '+p.deg+' )',36,'#111',{xanchor:'left',font:{family:FONT,size:36,color:'#111',weight:700}});
  [[445,505,RED,'up regulated: '+p.ups,477-413],[508,570,GREEN,'down regulated: '+p.downs,542-413]].forEach(k=>{
    const t=ly+(k[0]-413),b=ly+(k[1]-413);
    shapes.push({type:'rect',xref:'paper',yref:'paper',x0:px(lx+6),x1:px(lx+66),y0:py(t),y1:py(b),fillcolor:'#efefef',line:{width:0}});
    const cy=(t+b)/2, cx=lx+36;
    shapes.push({type:'circle',xref:'paper',yref:'paper',x0:px(cx-4),x1:px(cx+4),y0:py(cy-4),y1:py(cy+4),fillcolor:k[2],line:{width:0}});
    note(lx+74,ly+k[4],k[3],36,'#444',{xanchor:'left'});
  });
});

// --- Venn
[[593.5,2430,'rgba(251,209,35,0.5)'],[917,2430,'rgba(27,253,249,0.45)'],[756,2692,'rgba(135,100,212,0.4)']].forEach(c=>{
  shapes.push({type:'circle',xref:'paper',yref:'paper',x0:px(c[0]-327),x1:px(c[0]+327),y0:py(c[1]+305),y1:py(c[1]-305),fillcolor:c[2],line:{width:0},layer:'below'});
});
[[449,2354],[756,2276],[1061,2354],[756,2520],[529,2640],[980,2640],[756,2848]].forEach((q,i)=>note(q[0],q[1],vennLabels[i],40,'#333'));
note(332,2158,'A',46,'#EFD21E',{font:{family:FONT,size:46,color:'#EFD21E',weight:700}});
note(1177,2158,'B',46,'#2DE5E0',{font:{family:FONT,size:46,color:'#2DE5E0',weight:700}});
note(755,3057,'C',46,'#A184D6',{font:{family:FONT,size:46,color:'#A184D6',weight:700}});

// --- headings
const SERIF='"Liberation Serif","Times New Roman",serif';
note(50,70,'A',86,'#000',{font:{family:SERIF,size:86,color:'#000',weight:700}});
note(1570,72,'B',86,'#000',{font:{family:SERIF,size:86,color:'#000',weight:700}});
note(81,2141,'C',86,'#000',{font:{family:SERIF,size:86,color:'#000',weight:700}});
note(96,98,'Cluster analysis of differentially expressed genes',55,'#222',{xanchor:'left',font:{family:FONT,size:55,color:'#222',weight:700}});

layout.shapes=shapes; layout.annotations=annotations;
Plotly.newPlot('chart',traces,layout,{displayModeBar:false,staticPlot:true});
</script></body></html>
